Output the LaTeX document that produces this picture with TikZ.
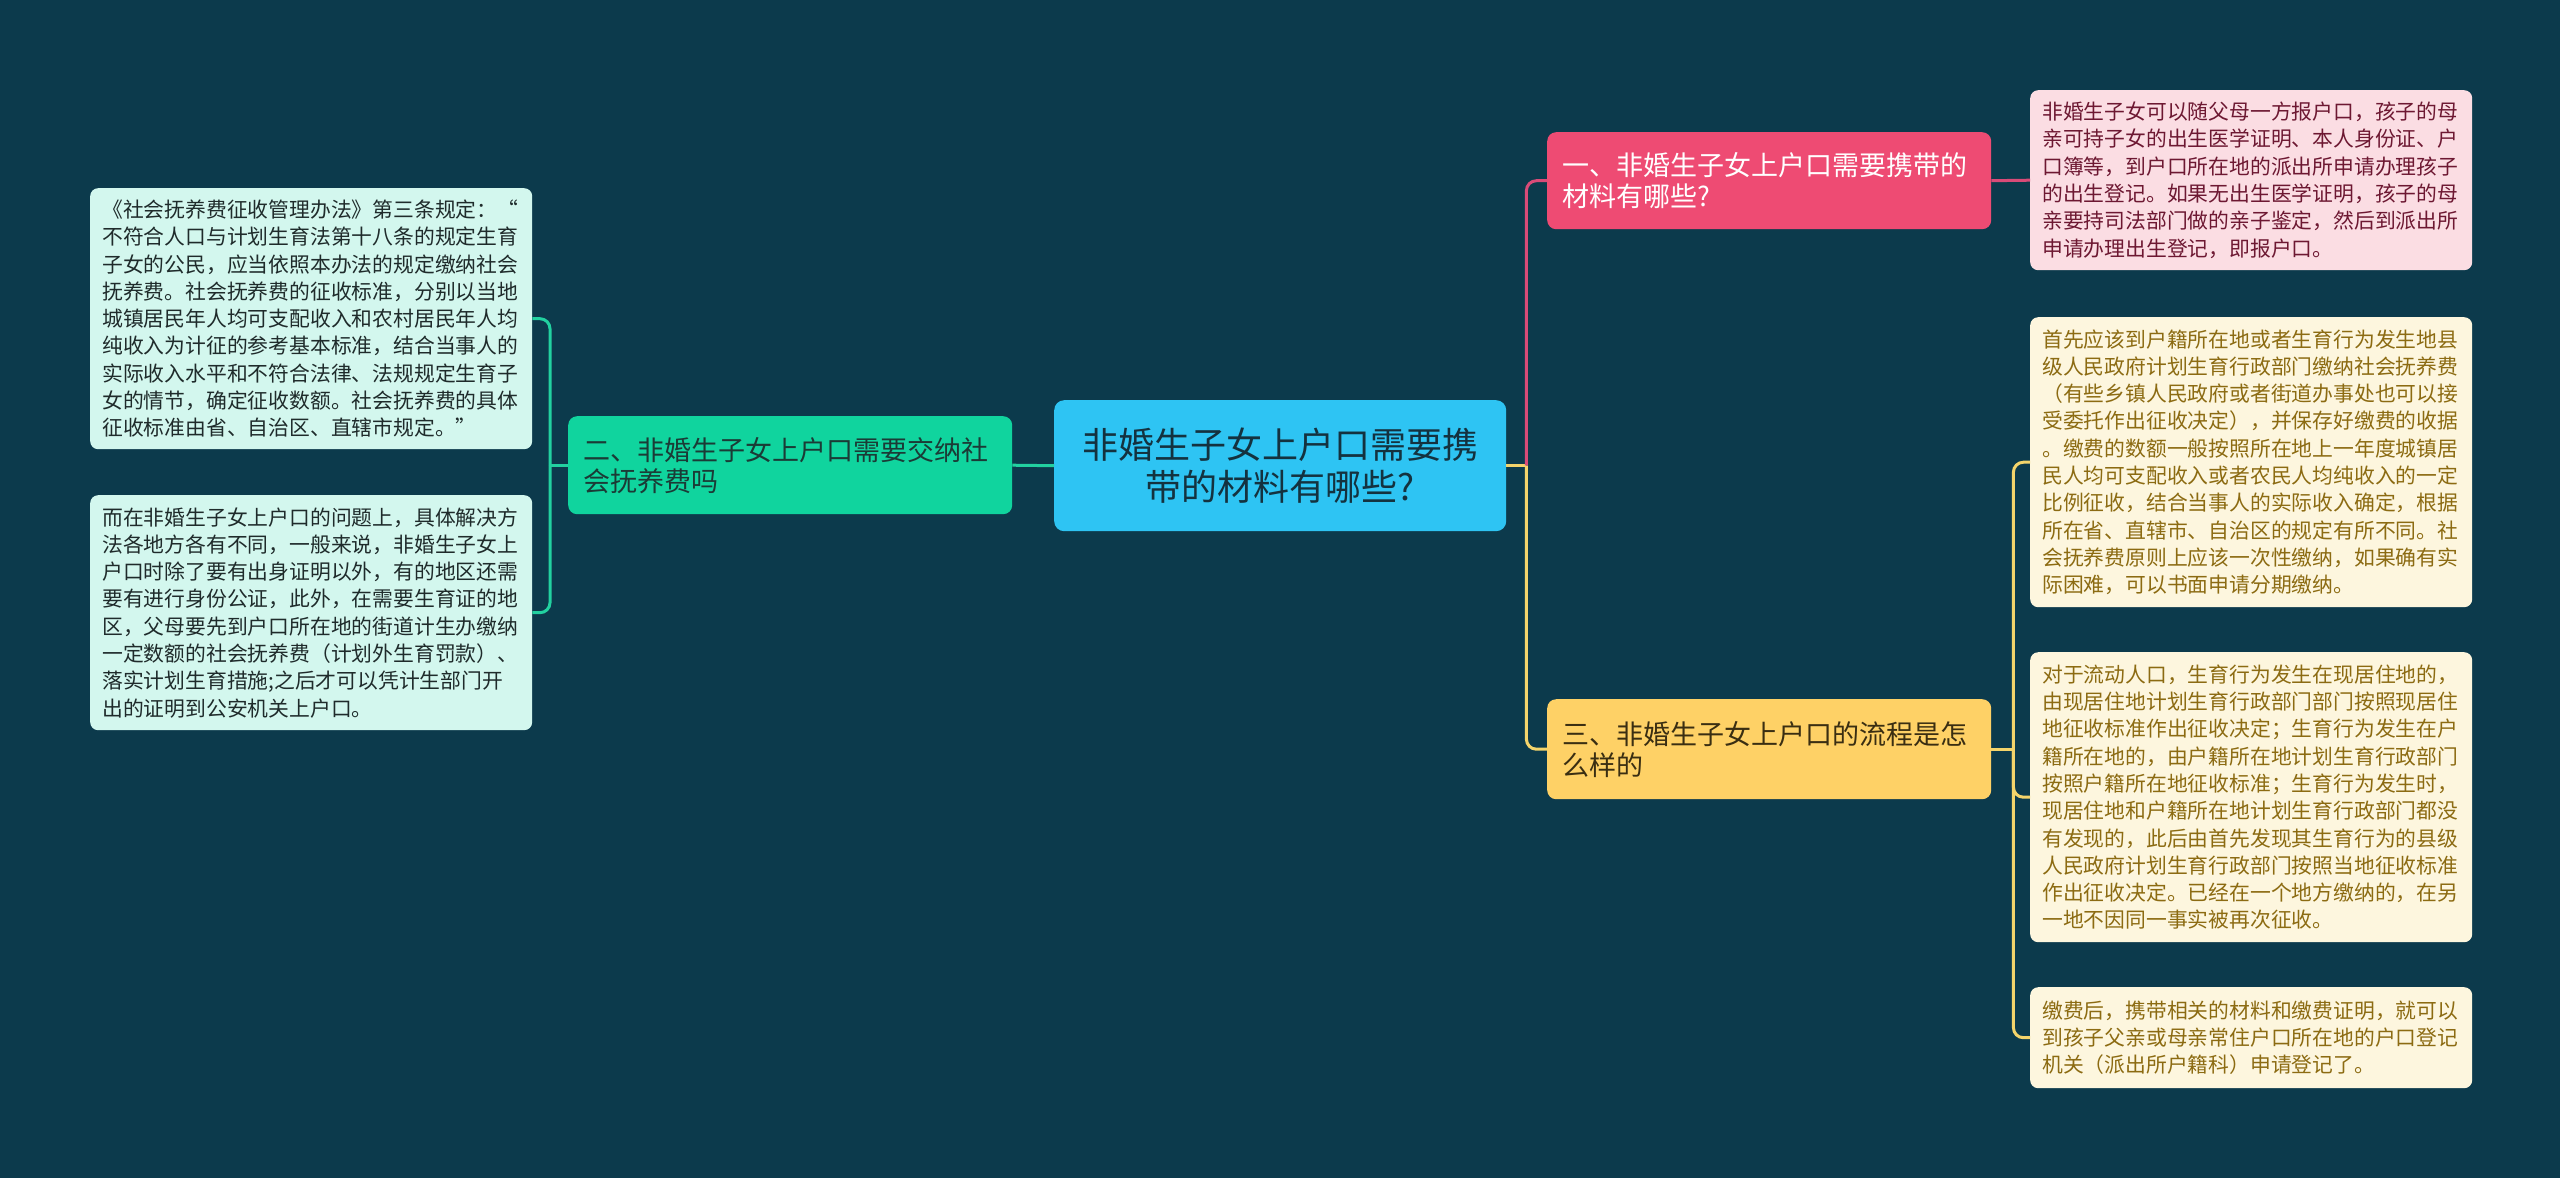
\documentclass[tikz,border=0pt]{standalone}
\usepackage{fontspec}
\setmainfont{Noto Sans CJK SC}
\definecolor{bgc}{HTML}{0C3A4C}
\definecolor{centerfill}{HTML}{2EC4F3}
\definecolor{centertext}{HTML}{14323F}
\definecolor{greenfill}{HTML}{10D49E}
\definecolor{greentext}{HTML}{1B3B36}
\definecolor{pinkfill}{HTML}{EE4B73}
\definecolor{yellowfill}{HTML}{FED166}
\definecolor{yellowtext}{HTML}{3A2E12}
\definecolor{gleaffill}{HTML}{D3F7EE}
\definecolor{gleaftext}{HTML}{1F2B2B}
\definecolor{pleaffill}{HTML}{FBDDE3}
\definecolor{pleaftext}{HTML}{6D1832}
\definecolor{yleaffill}{HTML}{FDF6DE}
\definecolor{yleaftext}{HTML}{8C6B12}
\definecolor{tealline}{HTML}{22D1A0}
\definecolor{pinkline}{HTML}{D94B78}
\definecolor{yellowline}{HTML}{F4D46B}
\tikzset{
  leaf/.style={anchor=north west, rounded corners=8pt, inner xsep=12pt, inner ysep=0pt,
    text width=418pt, align=left, font=\fontsize{20.8}{27.3}\selectfont},
  gleaf/.style={leaf, fill=gleaffill, text=gleaftext},
  pleaf/.style={leaf, fill=pleaffill, text=pleaftext},
  yleaf/.style={leaf, fill=yleaffill, text=yleaftext},
  topic/.style={anchor=north west, rounded corners=9pt, inner xsep=15pt, inner ysep=0pt,
    text width=414pt, align=left, font=\fontsize{27}{31}\selectfont},
  rootbox/.style={anchor=north west, rounded corners=10pt, inner xsep=10pt, inner ysep=0pt,
    text width=432pt, align=center, font=\fontsize{36}{42}\selectfont,
    fill=centerfill, text=centertext, minimum height=131pt},
  conn/.style={line width=3pt, rounded corners=10pt}
}
\begin{document}
\begin{tikzpicture}[x=1pt,y=-1pt]
\fill[bgc] (0,0) rectangle (2560,1178);
\useasboundingbox (0,0) rectangle (2560,1178);

% root
\node[rootbox] (root) at (1054,400) {非婚生子女上户口需要携\\带的材料有哪些?};

% topics
\node[topic, fill=greenfill, text=greentext, minimum height=98pt] (t2) at (568,416)
  {二、非婚生子女上户口需要交纳社\\会抚养费吗};
\node[topic, fill=pinkfill, text=white, minimum height=97pt] (t1) at (1547,132)
  {一、非婚生子女上户口需要携带的\\材料有哪些?};
\node[topic, fill=yellowfill, text=yellowtext, minimum height=100pt] (t3) at (1547,699)
  {三、非婚生子女上户口的流程是怎\\么样的};

% left leaves
\node[gleaf, minimum height=261pt] (l1) at (90,188)
  {《社会抚养费征收管理办法》第三条规定：“\\不符合人口与计划生育法第十八条的规定生育\\子女的公民，应当依照本办法的规定缴纳社会\\抚养费。社会抚养费的征收标准，分别以当地\\城镇居民年人均可支配收入和农村居民年人均\\纯收入为计征的参考基本标准，结合当事人的\\实际收入水平和不符合法律、法规规定生育子\\女的情节，确定征收数额。社会抚养费的具体\\征收标准由省、自治区、直辖市规定。”};
\node[gleaf, minimum height=235pt] (l2) at (90,495)
  {而在非婚生子女上户口的问题上，具体解决方\\法各地方各有不同，一般来说，非婚生子女上\\户口时除了要有出身证明以外，有的地区还需\\要有进行身份公证，此外，在需要生育证的地\\区，父母要先到户口所在地的街道计生办缴纳\\一定数额的社会抚养费（计划外生育罚款）、\\落实计划生育措施;之后才可以凭计生部门开\\出的证明到公安机关上户口。};

% right leaves
\node[pleaf, minimum height=180pt] (r1) at (2030,90)
  {非婚生子女可以随父母一方报户口，孩子的母\\亲可持子女的出生医学证明、本人身份证、户\\口簿等，到户口所在地的派出所申请办理孩子\\的出生登记。如果无出生医学证明，孩子的母\\亲要持司法部门做的亲子鉴定，然后到派出所\\申请办理出生登记，即报户口。};
\node[yleaf, minimum height=290pt] (r2) at (2030,317)
  {首先应该到户籍所在地或者生育行为发生地县\\级人民政府计划生育行政部门缴纳社会抚养费\\（有些乡镇人民政府或者街道办事处也可以接\\受委托作出征收决定），并保存好缴费的收据\\。缴费的数额一般按照所在地上一年度城镇居\\民人均可支配收入或者农民人均纯收入的一定\\比例征收，结合当事人的实际收入确定，根据\\所在省、直辖市、自治区的规定有所不同。社\\会抚养费原则上应该一次性缴纳，如果确有实\\际困难，可以书面申请分期缴纳。};
\node[yleaf, minimum height=290pt] (r3) at (2030,652)
  {对于流动人口，生育行为发生在现居住地的，\\由现居住地计划生育行政部门部门按照现居住\\地征收标准作出征收决定；生育行为发生在户\\籍所在地的，由户籍所在地计划生育行政部门\\按照户籍所在地征收标准；生育行为发生时，\\现居住地和户籍所在地计划生育行政部门都没\\有发现的，此后由首先发现其生育行为的县级\\人民政府计划生育行政部门按照当地征收标准\\作出征收决定。已经在一个地方缴纳的，在另\\一地不因同一事实被再次征收。};
\node[yleaf, minimum height=101pt] (r4) at (2030,987)
  {缴费后，携带相关的材料和缴费证明，就可以\\到孩子父亲或母亲常住户口所在地的户口登记\\机关（派出所户籍科）申请登记了。};

% junctions
\coordinate (jl) at ([xshift=-18pt]t2.west);
\coordinate (jr) at ([xshift=20pt]root.east);
\coordinate (jy) at ([xshift=22pt]t3.east);

% connectors
\draw[conn, tealline] (root.west) -- (t2.east);
\draw[conn, tealline] (t2.west) -- (jl);
\draw[conn, tealline] (jl) |- (l1.east);
\draw[conn, tealline] (jl) |- (l2.east);

\draw[conn, yellowline] (root.east) -- (jr);
\draw[conn, pinkline] (jr) |- (t1.west);
\draw[conn, yellowline] (jr) |- (t3.west);

\draw[conn, pinkline] (t1.east) -- (r1.west);

\draw[conn, yellowline] (t3.east) -- (jy);
\draw[conn, yellowline] (jy) |- (r2.west);
\draw[conn, yellowline] (jy) |- (r3.west);
\draw[conn, yellowline] (jy) |- (r4.west);
\end{tikzpicture}
\end{document}
